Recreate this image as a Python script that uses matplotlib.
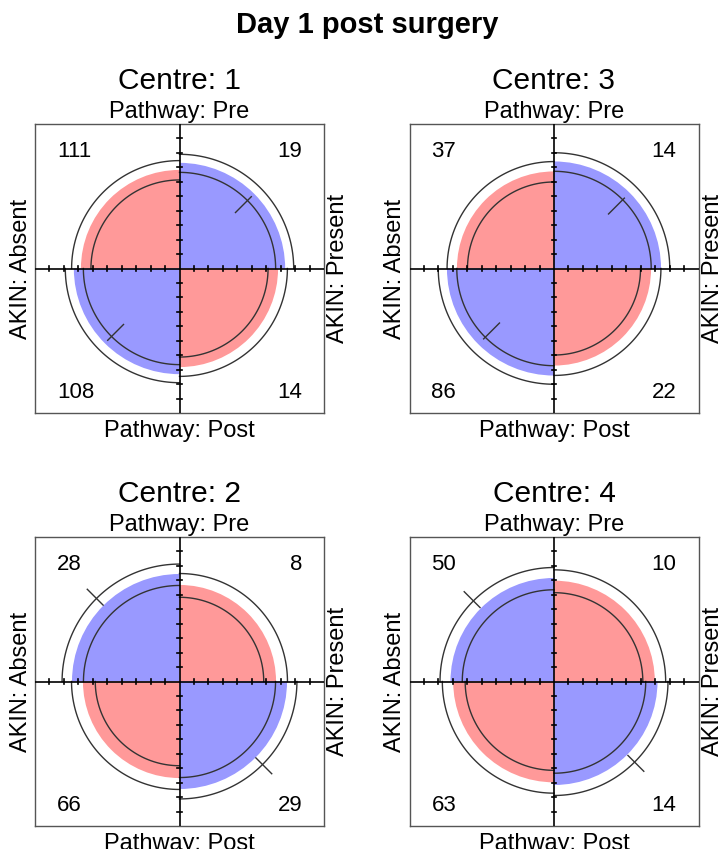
import numpy as np
import matplotlib
matplotlib.use("Agg")
import matplotlib.pyplot as plt
from matplotlib.patches import Wedge

plt.rcParams['font.family'] = ['Liberation Sans', 'DejaVu Sans']

# 2x2 tables per centre: rows = Pathway (Pre, Post), cols = AKIN (Absent, Present)
centres = ["1", "3", "2", "4"]
centre_1 = [[111, 19], [108, 14]]
centre_3 = [[37, 14], [86, 22]]
centre_2 = [[28, 8], [66, 29]]
centre_4 = [[50, 10], [63, 14]]
tables = [centre_1, centre_3, centre_2, centre_4]

row_var, row_levels = "Pathway", ["Pre", "Post"]
col_var, col_levels = "AKIN", ["Absent", "Present"]

conf_z = 1.96
col_small = "#FF9999"
col_large = "#9999FF"
ring_col = "#333333"

W, H = 722, 849
fig = plt.figure(figsize=(W / 100, H / 100), dpi=100)

# box positions in pixels (left, top), each box is 289 px square
boxes = [(35, 124), (409.5, 124), (35, 537), (409.5, 537)]
size = 289


def std_margins(o):
    # cell proportions with equal row/col margins for a given odds ratio
    s = np.sqrt(o)
    u = s / (1 + s)
    return np.array([[u, 1 - u], [1 - u, u]])


# quadrant angles: [row][col]
angles = [[(90, 180), (0, 90)], [(180, 270), (270, 360)]]


def arc(ax, r, a0, a1):
    t = np.radians(np.linspace(a0, a1, 100))
    ax.plot(r * np.cos(t), r * np.sin(t), color=ring_col, lw=1.0, zorder=3)


for tab, name, (bx, by) in zip(tables, centres, boxes):
    tab = np.array(tab, dtype=float)
    ax = fig.add_axes([bx / W, 1 - (by + size) / H, size / W, size / H])
    ax.set_xlim(-1, 1)
    ax.set_ylim(-1, 1)
    ax.set_xticks([])
    ax.set_yticks([])
    for sp in ax.spines.values():
        sp.set_color("#555555")
        sp.set_linewidth(1.0)

    odds = tab[0, 0] * tab[1, 1] / (tab[0, 1] * tab[1, 0])
    fit = std_margins(odds)
    large_diag = odds > 1

    # quadrants
    for i in range(2):
        for j in range(2):
            diag = (i == j)
            c = col_large if diag == large_diag else col_small
            a0, a1 = angles[i][j]
            ax.add_patch(Wedge((0, 0), np.sqrt(fit[i, j]), a0, a1,
                               facecolor=c, edgecolor="none", zorder=1))

    # confidence rings for the odds ratio
    se = np.sqrt((1 / tab).sum())
    lo = np.exp(np.log(odds) - conf_z * se)
    hi = np.exp(np.log(odds) + conf_z * se)
    for b in (lo, hi):
        fb = std_margins(b)
        for i in range(2):
            for j in range(2):
                a0, a1 = angles[i][j]
                arc(ax, np.sqrt(fb[i, j]), a0, a1)
    # outer ring radius of the larger quadrants, with a 45 degree mark
    fb = std_margins(hi if large_diag else lo)
    r_out = np.sqrt(fb[0, 0])
    mark_angles = [135, 315] if large_diag else [45, 225]
    for a in mark_angles:
        t = np.radians(a)
        rr = np.array([r_out - 0.065, r_out + 0.09])
        ax.plot(rr * np.cos(t), rr * np.sin(t), color=ring_col, lw=1.0, zorder=3)

    # axes with tick marks
    ax.plot([-1, 1], [0, 0], color="black", lw=1.2, zorder=4)
    ax.plot([0, 0], [-1, 1], color="black", lw=1.2, zorder=4)
    ticks = np.array([-0.9, -0.8, -0.7, -0.6, -0.5, -0.4, -0.3, -0.2, -0.1,
                      0.1, 0.2, 0.3, 0.4, 0.5, 0.6, 0.7, 0.8, 0.9])
    for tk in ticks:
        ax.plot([tk, tk], [-0.017, 0.017], color="black", lw=1.2, zorder=4)
        ax.plot([-0.017, 0.017], [tk, tk], color="black", lw=1.2, zorder=4)

    # cell counts in the corners
    fs = 16
    ax.text(-0.848, 0.772, f"{int(tab[0, 0])}", ha="left", va="baseline", fontsize=fs)
    ax.text(0.848, 0.772, f"{int(tab[0, 1])}", ha="right", va="baseline", fontsize=fs)
    ax.text(-0.848, -0.896, f"{int(tab[1, 0])}", ha="left", va="baseline", fontsize=fs)
    ax.text(0.848, -0.896, f"{int(tab[1, 1])}", ha="right", va="baseline", fontsize=fs)

    # margin labels
    fl = 17
    ax.text(0, 1.042, f"{row_var}: {row_levels[0]}", ha="center", va="baseline",
            fontsize=fl, clip_on=False)
    ax.text(0, -1.166, f"{row_var}: {row_levels[1]}", ha="center", va="baseline",
            fontsize=fl, clip_on=False)
    ax.text(-1.097, 0, f"{col_var}: {col_levels[0]}", ha="center", va="center",
            rotation=90, fontsize=fl, clip_on=False)
    ax.text(1.097, 0, f"{col_var}: {col_levels[1]}", ha="center", va="center",
            rotation=90, fontsize=fl, clip_on=False)
    ax.text(0, 1.242, f"Centre: {name}", ha="center", va="baseline",
            fontsize=21.5, clip_on=False)

fig.text(367 / W, 1 - 33 / H, "Day 1 post surgery", ha="center", va="baseline",
         fontsize=21, fontweight="bold")

fig.savefig("out.png", dpi=100)
